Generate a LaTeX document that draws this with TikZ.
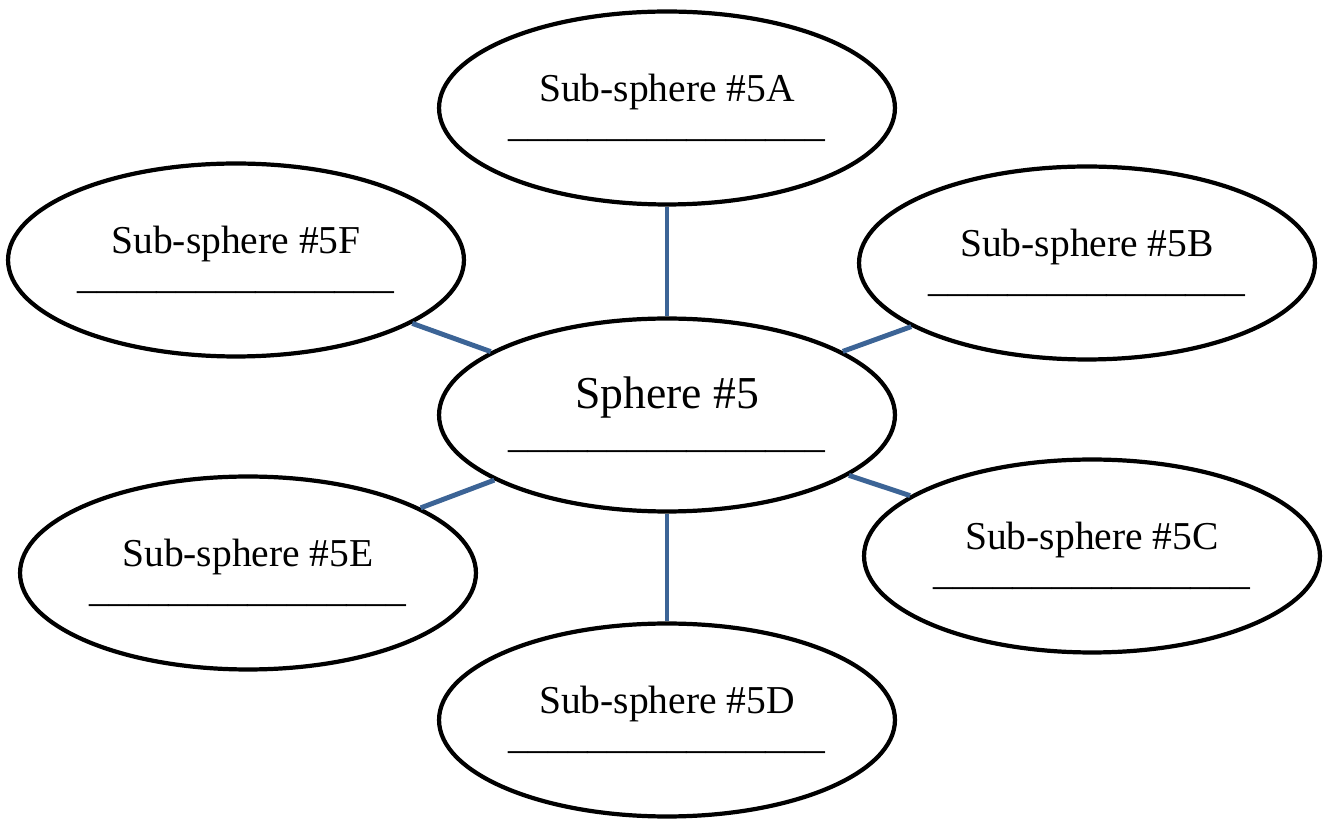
\documentclass[tikz,border=0pt]{standalone}
\usepackage{fontspec}
\setmainfont{Liberation Serif}
\usepackage{xcolor}
\usetikzlibrary{
    shapes,
    shapes.geometric,
    calc
}
\definecolor{linkblue}{RGB}{60,100,150}
\newcommand{\blankline}{\_\_\_\_\_\_\_\_\_\_\_\_\_\_\_\_}
\tikzset{
  sphere/.style = {
      draw,
      ellipse,
      line width=2.4pt,
      fill=white,
      minimum width=9.12cm,
      minimum height=3.86cm,
      inner sep=0pt,
      align=center,
      font=\fontsize{22.5}{30}\selectfont
  },
  main sphere/.style = {
      sphere
  },
  link/.style = {
      draw=linkblue,
      line width=2.8pt
  }
}
\newcommand{\subtext}[1]{Sub-sphere \##1\\[-10pt]\blankline}

\begin{document}
\begin{tikzpicture}[x=0.02cm, y=-0.02cm]
    \useasboundingbox (0,0) rectangle (1326,820);
    \node[main sphere] (S) at (667,415) {{\fontsize{26}{30}\selectfont Sphere \#5}\\[-8pt]\blankline};
    \node[sphere] (A) at (667,108) {\subtext{5A}};
    \node[sphere] (B) at (1087,263) {\subtext{5B}};
    \node[sphere] (C) at (1092,556) {\subtext{5C}};
    \node[sphere] (D) at (667,720) {\subtext{5D}};
    \node[sphere] (E) at (248,573) {\subtext{5E}};
    \node[sphere] (F) at (236,260) {\subtext{5F}};
    % Edges
    \draw[link] (S) -- (A);
    \draw[link] (S) -- (B);
    \draw[link] (S) -- (C);
    \draw[link] (S) -- (D);
    \draw[link] (S) -- (E);
    \draw[link] (S) -- (F);
\end{tikzpicture}
\end{document}
